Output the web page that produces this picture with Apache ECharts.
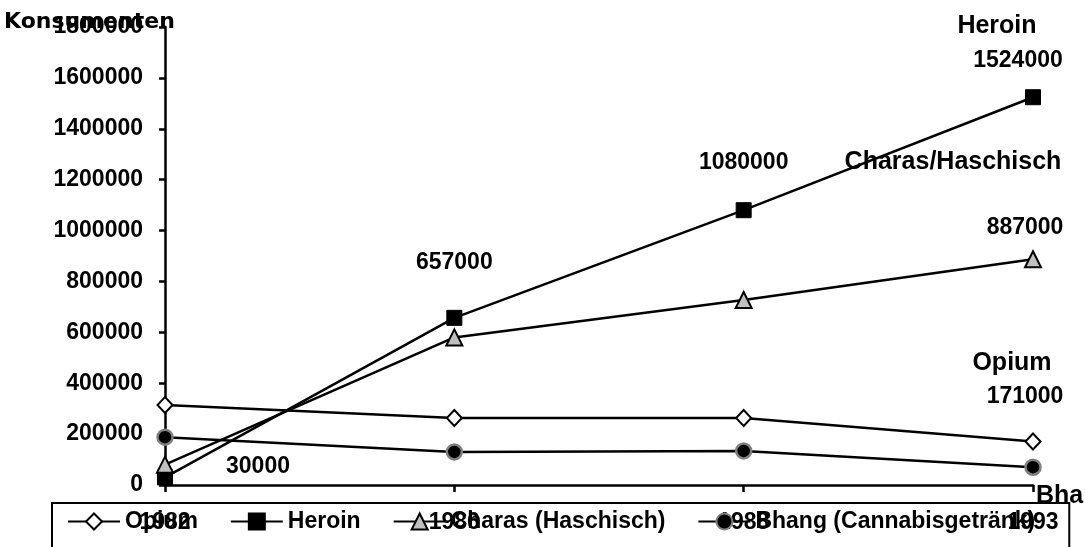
<!DOCTYPE html>
<html>
<head>
<meta charset="utf-8">
<script src="https://cdn.jsdelivr.net/npm/echarts@6.0.0/dist/echarts.min.js"></script>
<style>
  html, body { margin: 0; padding: 0; background: #fff; }
  #chart { width: 1085px; height: 547px; }
</style>
</head>
<body>
<div id="chart"></div>
<script>
// Daten
const years = ['1982', '1986', '1988', '1993']
const opium = [314000, 263000, 263000, 171000]
const heroin = [30000, 657000, 1080000, 1524000]
const charas = [80000, 580000, 727000, 887000]
const bhang = [188000, 130000, 134000, 70000]
const seriesNames = ['Opium', 'Heroin', 'Charas (Haschisch)', 'Bhang (Cannabisgetränk)']
const yMin = 0
const yMax = 1800000
const yStep = 200000

const numFont = { fontFamily: 'Liberation Sans', fontWeight: 'bold', fontSize: 23, color: '#000' }
const wordFont = { fontFamily: 'Liberation Sans', fontWeight: 'bold', fontSize: 25, color: '#000' }

// Beschriftung an einem Punkt
const lbl = (text, dx, dy, font, align) => ({
  show: true,
  position: 'inside',
  offset: [dx, dy],
  formatter: text,
  align: align || 'center',
  ...font
})

// Name am letzten Punkt (markPoint ohne Symbol)
const nameMark = (name, data, dx, dy, font, align) => ({
  symbol: 'circle',
  symbolSize: 0,
  silent: true,
  itemStyle: { color: 'transparent' },
  data: [{ coord: [years[3], data[3]], label: lbl(name, dx, dy, font || wordFont, align) }]
})

const lineStyle = { color: '#000', width: 2.5 }
const last = years.length - 1

const chart = echarts.init(document.getElementById('chart'))

const options = {
  animation: false,
  title: {
    text: 'Konsumenten',
    left: 4,
    top: 11,
    padding: 0,
    textStyle: { fontFamily: 'DejaVu Sans', fontWeight: 'bold', fontSize: 22, color: '#000' }
  },
  grid: { left: 165, right: 52, top: 27, bottom: 62, containLabel: false },
  legend: {
    left: 52,
    top: 503,
    padding: [7, 34, 30, 15],
    borderColor: '#000',
    borderWidth: 2,
    itemWidth: 52,
    itemHeight: 20,
    itemGap: 32,
    data: seriesNames,
    textStyle: { fontFamily: 'Liberation Sans', fontWeight: 'bold', fontSize: 23, color: '#000' }
  },
  xAxis: {
    type: 'category',
    data: years,
    boundaryGap: false,
    axisLine: { lineStyle: { color: '#000', width: 2.5 } },
    axisTick: { show: true, alignWithLabel: true, length: 7, lineStyle: { color: '#000', width: 2.5 } },
    axisLabel: { margin: 26, interval: 0, ...numFont },
    splitLine: { show: false }
  },
  yAxis: {
    type: 'value',
    min: yMin,
    max: yMax,
    interval: yStep,
    axisLine: { show: true, lineStyle: { color: '#000', width: 2.5 } },
    axisTick: { show: true, length: 6, lineStyle: { color: '#000', width: 2.5 } },
    axisLabel: { margin: 22, formatter: (v) => String(v), ...numFont },
    splitLine: { show: false }
  },
  series: [
    {
      name: seriesNames[0],
      type: 'line',
      data: opium.map((v, i) => i === last ? { value: v, label: lbl(String(v), -8, -45, numFont) } : v),
      symbol: 'diamond',
      symbolSize: [15, 16],
      itemStyle: { color: '#fff', borderColor: '#000', borderWidth: 2 },
      lineStyle,
      markPoint: nameMark('Opium', opium, -21, -78)
    },
    {
      name: seriesNames[1],
      type: 'line',
      data: heroin.map((v, i) => {
        const off = [[93, -11], [0, -55], [0, -48], [-15, -37]][i]
        return { value: v, label: lbl(String(v), off[0], off[1], numFont) }
      }),
      symbol: 'rect',
      symbolSize: 15,
      itemStyle: { color: '#000', borderColor: '#000', borderWidth: 1 },
      lineStyle,
      markPoint: nameMark('Heroin', heroin, -36, -71)
    },
    {
      name: seriesNames[2],
      type: 'line',
      data: charas.map((v, i) => i === last ? { value: v, label: lbl(String(v), -8, -32, numFont) } : v),
      symbol: 'triangle',
      symbolSize: 16,
      itemStyle: { color: '#c0c0c0', borderColor: '#000', borderWidth: 2 },
      lineStyle,
      markPoint: nameMark('Charas/Haschisch', charas, -80, -97)
    },
    {
      name: seriesNames[3],
      type: 'line',
      data: bhang,
      symbol: 'circle',
      symbolSize: 15,
      itemStyle: { color: '#000', borderColor: '#808080', borderWidth: 2.5 },
      lineStyle,
      markPoint: nameMark('Bhang', bhang, 3, 29, wordFont, 'left')
    }
  ]
}

chart.setOption(options)
</script>
</body>
</html>
